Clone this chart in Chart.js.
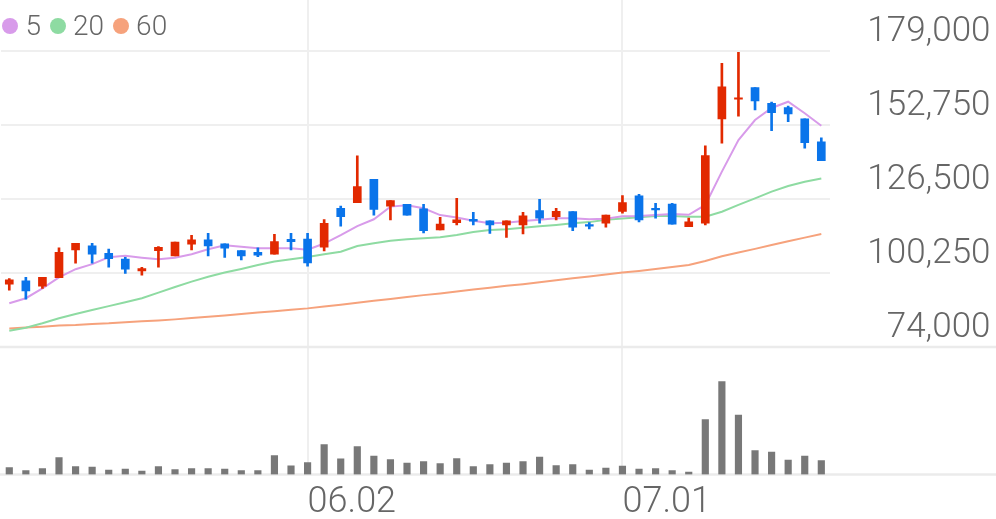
<!DOCTYPE html>
<html>
<head>
<meta charset="utf-8">
<script src="https://cdn.jsdelivr.net/npm/chart.js@4.4.1/dist/chart.umd.min.js"></script>
<style>
    html, body { margin: 0; padding: 0; background: #fff; }
    #wrap { position: relative; width: 996px; height: 519px; }
    #legend {
        position: absolute; left: 2px; top: 9px;
        display: flex; align-items: center;
        font: 300 28px Roboto, sans-serif; color: #666;
    }
    #legend .item { display: flex; align-items: center; margin-right: 8.5px; }
    #legend .dot { width: 16px; height: 16px; border-radius: 50%; margin-right: 7.5px; }
</style>
</head>
<body>
<div id="wrap">
    <canvas id="stockChart" width="996" height="519"></canvas>
    <div id="legend"></div>
</div>
<script>
// trading days (MM.DD), 2025-05-07 .. 2025-07-17
const dates = [
    '05.07', '05.08', '05.09', '05.12', '05.13', '05.14', '05.15', '05.16', '05.19', '05.20',
    '05.21', '05.22', '05.23', '05.26', '05.27', '05.28', '05.29', '05.30', '06.02', '06.04',
    '06.05', '06.09', '06.10', '06.11', '06.12', '06.13', '06.16', '06.17', '06.18', '06.19',
    '06.20', '06.23', '06.24', '06.25', '06.26', '06.27', '06.30', '07.01', '07.02', '07.03',
    '07.04', '07.07', '07.08', '07.09', '07.10', '07.11', '07.14', '07.15', '07.16', '07.17'
];
const tickDates = ['06.02', '07.01'];
const priceTicks = [74000, 100250, 126500, 152750, 179000];

const opens = [
    96300, 97500, 95600, 98600, 108400, 109900, 107200, 105200, 101000, 108200,
    106300, 110500, 112000, 110600, 108200, 107600, 106900, 112200, 112300, 109400,
    123200, 125200, 133500, 124000, 124600, 123000, 115500, 118100, 119300, 118800,
    117300, 117300, 122400, 120200, 122000, 117400, 117900, 122100, 127600, 123200,
    124700, 116700, 117900, 154900, 161900, 166000, 160400, 158900, 154900, 146800
];
const highs = [
    98300, 98700, 98700, 109200, 110800, 110800, 108700, 105800, 102300, 109600,
    111200, 113600, 114300, 110600, 108200, 109200, 114000, 114300, 114300, 119200,
    124000, 141800, 133500, 125900, 124600, 124600, 120000, 126700, 121800, 118800,
    118800, 121800, 126400, 123200, 122000, 118100, 120800, 127700, 128200, 125000,
    125000, 119700, 145400, 174600, 178500, 166000, 160900, 159500, 154900, 148200
];
const lows = [
    94200, 91000, 94800, 98600, 103700, 103700, 102300, 100100, 99500, 102300,
    106300, 108400, 106300, 105800, 104900, 106000, 106900, 108400, 102700, 108100,
    116900, 125200, 120800, 119100, 120800, 114500, 115500, 117300, 117300, 114300,
    112900, 114100, 117900, 119100, 115300, 115900, 116500, 121500, 118400, 119700,
    117600, 116700, 117300, 146300, 155900, 158100, 150700, 153900, 144500, 140100
];
const closes = [
    97800, 93900, 98700, 107600, 110800, 106900, 105300, 101600, 101800, 109400,
    111200, 112000, 109900, 109100, 106300, 106600, 111400, 111400, 103800, 117900,
    120200, 130900, 122800, 125900, 120800, 115300, 117600, 119100, 118600, 117300,
    118800, 120500, 119700, 122100, 116500, 116900, 120800, 125200, 119100, 122600,
    117600, 118400, 141900, 166300, 162400, 161300, 157100, 156700, 146500, 140100
];
// volume, thousand shares
const volumes = [
    70, 40, 60, 170, 80, 75, 45, 55, 35, 80,
    50, 60, 60, 55, 40, 40, 190, 87, 120, 300,
    157, 280, 183, 150, 113, 130, 110, 160, 80, 100,
    115, 130, 175, 90, 100, 45, 65, 85, 55, 60,
    40, 25, 550, 930, 595, 240, 225, 145, 185, 140
];
const ma5 = [
    89500, 91300, 94800, 98700, 101600, 103400, 105800, 106400, 105700, 105100,
    105700, 106900, 108700, 110100, 109600, 109000, 109000, 109000, 108500, 110700,
    113700, 116900, 119300, 123800, 124300, 123200, 120800, 119900, 118800, 117900,
    118100, 118700, 119100, 119700, 119700, 119300, 119500, 120400, 120500, 120800,
    121200, 120900, 124400, 136200, 147400, 154500, 158800, 161000, 156900, 152500
];
const ma20 = [
    79800, 80800, 82400, 84200, 85700, 87100, 88500, 89900, 91300, 93300,
    95300, 97200, 98900, 100400, 101700, 103100, 104300, 105100, 105900, 106900,
    107800, 109800, 110800, 111700, 112200, 112600, 112900, 113700, 114800, 115500,
    115800, 116300, 116800, 117300, 117900, 118300, 119100, 119600, 120000, 120500,
    120500, 120200, 120200, 122000, 124400, 126700, 129100, 131100, 132600, 133800
];
const ma60 = [
    80600, 80900, 81200, 81600, 81800, 82200, 82400, 82800, 83100, 83400,
    83800, 84300, 84700, 85200, 85700, 86200, 86700, 87200, 87700, 88400,
    89000, 89700, 90400, 91000, 91700, 92400, 93000, 93700, 94400, 95000,
    95700, 96300, 97000, 97700, 98400, 99000, 99700, 100400, 101000, 101700,
    102400, 103100, 104500, 106200, 107500, 108800, 110200, 111500, 112800, 114100
];

const maNames = ['5', '20', '60'];
const maColors = ['#d89bea', '#8edba2', '#f6a27c'];
const upColor = '#e22900';
const downColor = '#0a74ea';
const gridColor = '#efefef';
const dateFont = { family: 'Roboto', size: 36, weight: '300' };
const priceFont = { family: 'Roboto', size: 35, weight: '300' };

const wicks = dates.map((d, i) => [lows[i], highs[i]]);
const bodies = dates.map((d, i) => [opens[i], closes[i]]);
const candleColor = ctx => closes[ctx.dataIndex] >= opens[ctx.dataIndex] ? upColor : downColor;

// legend (top-left, over the plot)
const legendEl = document.getElementById('legend');
maNames.forEach((name, i) => {
    const item = document.createElement('span');
    item.className = 'item';
    item.innerHTML = `<span class="dot" style="background:${maColors[i]}"></span><span>${name}</span>`;
    legendEl.appendChild(item);
});

// separators under the price panel and the volume panel, full width
const panelLines = {
    id: 'panelLines',
    beforeDatasetsDraw(chart) {
        const { ctx, width, scales } = chart;
        const ys = [scales.y.getPixelForValue(priceTicks[0]), scales.yVol.getPixelForValue(0)];
        ctx.save();
        ctx.strokeStyle = '#ebebeb';
        ctx.lineWidth = 2.5;
        ys.forEach(y => {
            ctx.beginPath();
            ctx.moveTo(0, y);
            ctx.lineTo(width, y);
            ctx.stroke();
        });
        ctx.restore();
    }
};

const maDataset = (data, i) => ({
    type: 'line',
    label: maNames[i],
    data,
    yAxisID: 'y',
    borderColor: maColors[i],
    borderWidth: 2,
    pointRadius: 0,
    tension: 0,
    order: 2
});

new Chart(document.getElementById('stockChart').getContext('2d'), {
    type: 'bar',
    data: {
        labels: dates,
        datasets: [
            {
                label: 'body',
                data: bodies,
                yAxisID: 'y',
                backgroundColor: candleColor,
                barThickness: 8,
                minBarLength: 1,
                grouped: false,
                order: 0
            },
            {
                label: 'wick',
                data: wicks,
                yAxisID: 'y',
                backgroundColor: candleColor,
                barThickness: 2,
                grouped: false,
                order: 1
            },
            maDataset(ma5, 0),
            maDataset(ma20, 1),
            maDataset(ma60, 2),
            {
                label: 'volume',
                data: volumes,
                yAxisID: 'yVol',
                backgroundColor: '#787878',
                barThickness: 6.5,
                grouped: false,
                order: 5
            }
        ]
    },
    options: {
        responsive: false,
        animation: false,
        devicePixelRatio: 1,
        layout: { padding: { left: 1, right: 5.5 } },
        plugins: {
            legend: { display: false },
            tooltip: { enabled: false }
        },
        scales: {
            x: {
                afterFit: s => {
                    s.height = 44.5;
                    s.paddingLeft = 0;
                    s.paddingRight = 0;
                },
                grid: {
                    offset: false,
                    drawTicks: false,
                    lineWidth: 2,
                    color: ctx => tickDates.includes(dates[ctx.index]) ? gridColor : 'transparent'
                },
                border: { display: false },
                ticks: {
                    autoSkip: false,
                    maxRotation: 0,
                    align: 'start',
                    padding: 7,
                    color: '#666',
                    font: dateFont,
                    callback: (v, i) => tickDates.includes(dates[i]) ? dates[i] : ''
                }
            },
            y: {
                position: 'right',
                min: 28772,
                max: 197091,
                afterBuildTicks: s => { s.ticks = priceTicks.map(v => ({ value: v })); },
                afterFit: s => {
                    s.width = 160.9;
                    s.paddingTop = 0;
                    s.paddingBottom = 0;
                },
                grid: { color: gridColor, lineWidth: 2, drawTicks: false },
                border: { display: false },
                ticks: {
                    color: '#666',
                    font: priceFont,
                    crossAlign: 'far',
                    padding: 29,
                    labelOffset: -19,
                    callback: v => v.toLocaleString('en-US')
                }
            },
            yVol: {
                display: false,
                min: 0,
                max: 4745
            }
        }
    },
    plugins: [panelLines]
});
</script>
</body>
</html>
